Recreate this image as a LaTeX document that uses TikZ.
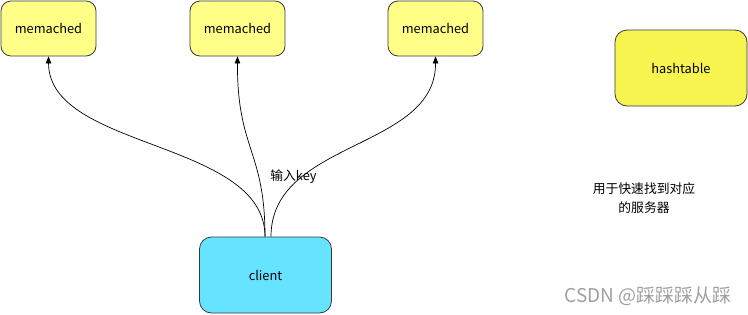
\documentclass[tikz,border=0pt]{standalone}
\usepackage{fontspec}
\setmainfont{Noto Sans CJK SC}
\usetikzlibrary{arrows.meta}
\definecolor{memfill}{HTML}{FFFF88}
\definecolor{hashfill}{HTML}{F8F44F}
\definecolor{clientfill}{HTML}{66E3FF}
\definecolor{edgegray}{HTML}{36393D}
\definecolor{wmgray}{HTML}{A0A0A0}
\tikzset{
  box/.style={draw=edgegray, line width=0.8pt, rounded corners=10pt, inner sep=0pt, font=\fontsize{12.8}{15}\selectfont},
  membox/.style={box, fill=memfill, minimum width=95pt, minimum height=55pt},
  bigbox/.style={box, minimum width=132pt, minimum height=76pt, rounded corners=12pt},
  link/.style={draw=black, line width=0.7pt, -{Triangle[length=7pt,width=5.5pt]}},
  txt/.style={font=\fontsize{12.8}{19}\selectfont, align=center, inner sep=0pt}
}
\begin{document}
\begin{tikzpicture}[x=1pt,y=-1pt]
\useasboundingbox (0,0) rectangle (748,314);
\node[membox] (m1) at (48.5,28.5) {memached};
\node[membox] (m2) at (237.5,28.5) {memached};
\node[membox] (m3) at (435.5,28.5) {memached};
\node[bigbox, fill=hashfill] (h) at (681,68) {hashtable};
\node[bigbox, fill=clientfill] (c) at (265.5,275) {client};
\coordinate (s1) at ([xshift=-0.5pt]c.north);
\coordinate (s3) at ([xshift=5.5pt]c.north);
\draw[link] (s1) .. controls (265,140) and (49,150) .. (m1.south);
\draw[link] (s1) .. controls (265,150) and (237,150) .. (m2.south);
\draw[link] (s3) .. controls (271,140) and (436,150) .. (m3.south);
\node[txt] (lbl) at (293.5,177) {输入key};
\node[txt] (note) at (644,198) {用于快速找到对应\\的服务器};
\node[txt, font=\fontsize{19}{22}\selectfont, text=wmgray] (wm) at (648,296) {CSDN @踩踩踩从踩};
\end{tikzpicture}
\end{document}
